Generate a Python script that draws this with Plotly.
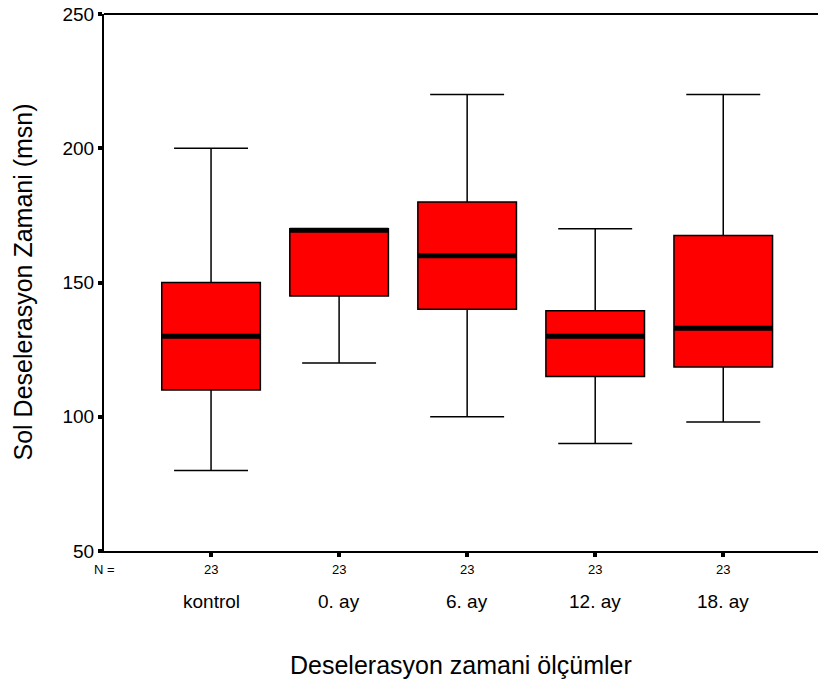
import plotly.graph_objects as go

categories = ["kontrol", "0. ay", "6. ay", "12. ay", "18. ay"]
counts = [23, 23, 23, 23, 23]
lower = [80, 120, 100, 90, 98]
q1 = [110, 145, 140, 115, 118.5]
median = [130, 169.5, 160, 130, 133]
q3 = [150, 170, 180, 139.5, 167.5]
upper = [200, 170, 220, 170, 220]
y_ticks = [50, 100, 150, 200, 250]

pos = list(range(len(categories)))
box_w = 0.77
FONT = "Liberation Sans, Arial, sans-serif"

fig = go.Figure()
fig.add_trace(go.Box(
    x=pos, q1=q1, median=median, q3=q3, lowerfence=lower, upperfence=upper,
    width=box_w, whiskerwidth=0.75,
    fillcolor="#FF0000", line=dict(color="black", width=1.5),
    boxpoints=False, showlegend=False, hoverinfo="skip",
))
for p, m in zip(pos, median):
    fig.add_trace(go.Scatter(
        x=[p - box_w / 2, p + box_w / 2], y=[m, m], mode="lines",
        line=dict(color="black", width=5), showlegend=False, hoverinfo="skip",
    ))

ann = []
ann.append(dict(text="N =", x=0, xref="paper", xanchor="center",
                y=-0.0353, yref="paper", yanchor="middle", showarrow=False,
                font=dict(size=13, color="black", family=FONT)))
for p, c, n in zip(pos, categories, counts):
    ann.append(dict(text=str(n), x=p, xref="x", y=-0.0353, yref="paper",
                    yanchor="middle", showarrow=False,
                    font=dict(size=13, color="black", family=FONT)))
    ann.append(dict(text=c, x=p, xref="x", y=-0.0948, yref="paper",
                    yanchor="middle", showarrow=False,
                    font=dict(size=19, color="black", family=FONT)))
ann.append(dict(text="Deselerasyon zamani ölçümler", x=0.5, xref="paper",
                y=-0.212, yref="paper", yanchor="middle", showarrow=False,
                font=dict(size=25, color="black", family=FONT)))
ann.append(dict(text="Sol Deselerasyon Zamani (msn)", x=(22 - 104) / 714, xref="paper",
                y=0.5, yref="paper", textangle=-90, xanchor="center", yanchor="middle",
                showarrow=False, font=dict(size=25, color="black", family=FONT)))

fig.update_layout(
    width=818, height=688,
    margin=dict(l=104, r=0, t=14, b=137),
    paper_bgcolor="white", plot_bgcolor="white",
    annotations=ann,
    shapes=[dict(type="line", xref="paper", yref="paper", x0=0, x1=1, y0=1, y1=1,
                 line=dict(color="black", width=2))],
    font=dict(family=FONT, color="black"),
    xaxis=dict(range=[-0.836, 4.74], tickvals=pos, showticklabels=False,
               ticks="outside", ticklen=4, tickwidth=4, tickcolor="black",
               showline=True, linecolor="black", linewidth=2,
               showgrid=False, zeroline=False),
    yaxis=dict(range=[50, 250], tickvals=y_ticks, ticks="outside", ticklen=4,
               tickwidth=4, tickcolor="black", showline=True, linecolor="black",
               linewidth=2, showgrid=False, zeroline=False, ticklabeloverflow="allow",
               tickfont=dict(size=19, color="black", family=FONT)),
)
fig.write_html("out.html", config={"displayModeBar": False},
               post_script="document.body.style.margin='0';document.body.style.overflow='hidden';")
